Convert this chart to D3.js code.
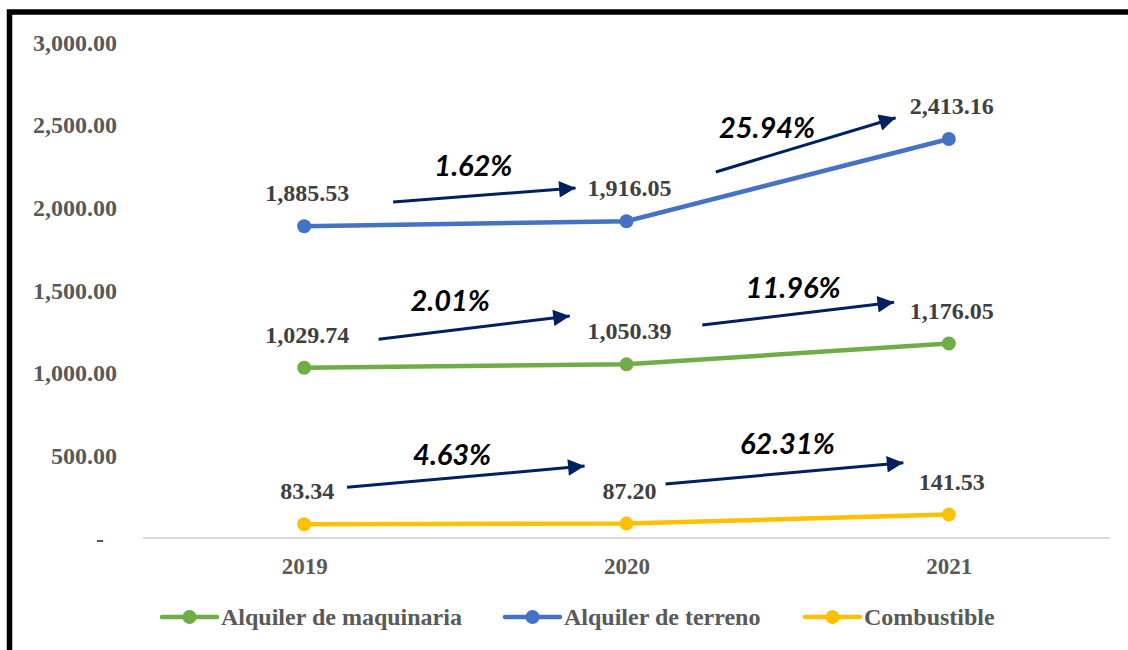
<!DOCTYPE html>
<html>
<head>
<meta charset="utf-8">
<script src="https://cdn.jsdelivr.net/npm/d3@7"></script>
<style>
  html, body { margin: 0; padding: 0; background: #fff; }
  svg { display: block; }
  .serif { font-family: "Liberation Serif", "Tinos", "Times New Roman", "Nimbus Roman", "DejaVu Serif", serif; font-weight: bold; }
  .pct { font-family: "Lato", "Open Sans", sans-serif; font-weight: bold; font-style: italic; }
</style>
</head>
<body>
<svg id="chart" width="1128" height="650"></svg>
<script>
// ---- data ----
const years = ["2019", "2020", "2021"];
const seriesNames = ["Alquiler de maquinaria", "Alquiler de terreno", "Combustible"];
const maquinaria = [1029.74, 1050.39, 1176.05];
const terreno = [1885.53, 1916.05, 2413.16];
const combustible = [83.34, 87.20, 141.53];
const yTicks = [0, 500, 1000, 1500, 2000, 2500, 3000];
const seriesColors = ["#70AD47", "#4472C4", "#FFC000"];

// growth annotations (position in category-index / value units)
const growthLabels = ["1.62%", "25.94%", "2.01%", "11.96%", "4.63%", "62.31%"];
const arrowStartIdx = [0.276, 1.277, 0.231, 1.235, 0.133, 1.121];
const arrowStartVal = [2032, 2214, 1202, 1288, 307, 327];
const arrowEndIdx = [0.842, 1.835, 0.824, 1.830, 0.870, 1.859];
const arrowEndVal = [2117, 2542, 1343, 1426, 435, 455];
const labelIdx = [0.525, 1.436, 0.453, 1.517, 0.459, 1.499];
const labelVal = [2190, 2421, 1375, 1453, 442, 506];

const series = [
  { name: seriesNames[0], values: maquinaria, color: seriesColors[0] },
  { name: seriesNames[1], values: terreno, color: seriesColors[1] },
  { name: seriesNames[2], values: combustible, color: seriesColors[2] }
];

const svg = d3.select("#chart");

// outer frame
svg.append("rect")
  .attr("x", 9.5).attr("y", 12).attr("width", 1140).attr("height", 660)
  .attr("fill", "none").attr("stroke", "#000").attr("stroke-width", 5.5);

const plot = { left: 143, right: 1110, top: 42, bottom: 538 };

const x = d3.scalePoint().domain(years).range([plot.left, plot.right]).padding(0.5);
const y = d3.scaleLinear().domain([0, 3000]).range([plot.bottom, plot.top]);
const step = x.step();
const xi = i => x(years[0]) + i * step;

const fmt = d3.format(",.2f");

// y axis labels
const yAxis = d3.axisLeft(y).tickValues(yTicks)
  .tickFormat(d => d === 0 ? "-" : fmt(d)).tickSize(0).tickPadding(0);
const yg = svg.append("g").attr("transform", "translate(117,0)").call(yAxis)
  .attr("font-family", null).attr("font-size", null);
yg.select(".domain").remove();
yg.selectAll("text")
  .attr("class", "serif").style("font-size", "24px")
  .attr("fill", "#595959")
  .attr("dy", "0.34em")
  .attr("dx", d => d === 0 ? -13 : 0);

// x axis baseline + labels
const xAxis = d3.axisBottom(x).tickSize(0).tickPadding(0);
const xg = svg.append("g").attr("transform", `translate(0,${plot.bottom})`).call(xAxis)
  .attr("font-family", null).attr("font-size", null);
xg.select(".domain").attr("d", `M${plot.left},0H${plot.right}`)
  .attr("stroke", "#D9D9D9").attr("stroke-width", 2);
xg.selectAll("text")
  .attr("class", "serif").style("font-size", "23px")
  .attr("fill", "#595959").attr("dy", 0).attr("y", 36);

// lines
const line = d3.line().x((d, i) => x(years[i])).y(d => y(d));
series.forEach(s => {
  svg.append("path").datum(s.values).attr("d", line)
    .attr("fill", "none").attr("stroke", s.color).attr("stroke-width", 4.5)
    .attr("stroke-linecap", "round");
  svg.selectAll(null).data(s.values).enter().append("circle")
    .attr("cx", (d, i) => x(years[i])).attr("cy", d => y(d)).attr("r", 7)
    .attr("fill", s.color);
  svg.selectAll(null).data(s.values).enter().append("text")
    .attr("x", (d, i) => x(years[i]) + 3).attr("y", d => y(d) - 25)
    .attr("text-anchor", "middle")
    .attr("class", "serif").style("font-size", "24px")
    .attr("fill", "#404040")
    .text(d => fmt(d));
});

// arrows
const defs = svg.append("defs");
defs.append("marker").attr("id", "ah")
  .attr("viewBox", "0 0 10 10").attr("refX", 10).attr("refY", 5)
  .attr("markerWidth", 6.5).attr("markerHeight", 5.5).attr("markerUnits", "strokeWidth")
  .attr("orient", "auto")
  .append("path").attr("d", "M0,0L10,5L0,10Z").attr("fill", "#002060");

growthLabels.forEach((lab, k) => {
  svg.append("line")
    .attr("x1", xi(arrowStartIdx[k])).attr("y1", y(arrowStartVal[k]))
    .attr("x2", xi(arrowEndIdx[k])).attr("y2", y(arrowEndVal[k]))
    .attr("stroke", "#002060").attr("stroke-width", 3)
    .attr("marker-end", "url(#ah)");
  svg.append("text")
    .attr("x", xi(labelIdx[k])).attr("y", y(labelVal[k]))
    .attr("text-anchor", "middle")
    .attr("class", "pct").style("font-size", "29px")
    .attr("fill", "#000")
    .text(lab);
});

// legend
const legendX = [162, 505, 805];
const legendY = 617;
series.forEach((s, i) => {
  const g = svg.append("g").attr("transform", `translate(${legendX[i]},${legendY})`);
  g.append("line").attr("x1", 0).attr("x2", 55).attr("y1", 0).attr("y2", 0)
    .attr("stroke", s.color).attr("stroke-width", 4.5).attr("stroke-linecap", "round");
  g.append("circle").attr("cx", 27.5).attr("cy", 0).attr("r", 7).attr("fill", s.color);
  g.append("text").attr("x", 59).attr("y", 0).attr("dy", "0.34em")
    .attr("class", "serif").style("font-size", "24px")
    .attr("fill", "#595959").text(s.name);
});
</script>
</body>
</html>
